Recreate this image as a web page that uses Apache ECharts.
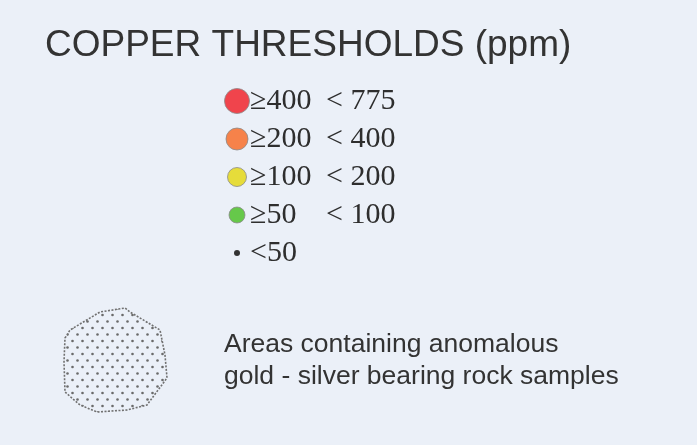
<!DOCTYPE html>
<html>
<head>
<meta charset="utf-8">
<script src="https://cdn.jsdelivr.net/npm/echarts@6/dist/echarts.min.js"></script>
<style>
html, body { margin: 0; padding: 0; background: #ebf0f8; }
#chart { width: 697px; height: 445px; }
</style>
</head>
<body>
<div id="chart"></div>
<script>
// legend rows: copper thresholds in ppm
var ranges = ['≥400', '≥200', '≥100', '≥50', '<50']
var upper = ['< 775', '< 400', '< 200', '< 100', '']
var colors = ['#f0444c', '#f6824a', '#e6dc3a', '#66c84a', '#333333']
var sizes = [25, 22, 19, 16, 6]

// outline of the gold-silver area (grid units, 0..110)
var areaOutline = [
    [5, 33], [10, 25], [40, 7], [65, 3], [70, 7], [100, 25], [105, 50],
    [107, 73], [87, 100], [67, 105], [37, 107], [20, 100], [5, 87], [4, 57]
]
var areaText = ['Areas containing anomalous', 'gold - silver bearing rock samples']

// dotted fill pattern
var tile = document.createElement('canvas')
tile.width = 10
tile.height = 13
var ctx = tile.getContext('2d')
ctx.fillStyle = '#6a6a6a'
ctx.beginPath(); ctx.arc(2.5, 3, 1.3, 0, Math.PI * 2); ctx.fill()
ctx.beginPath(); ctx.arc(7.5, 9.5, 1.3, 0, Math.PI * 2); ctx.fill()

var myChart = echarts.init(document.getElementById('chart'))

var dots = []
var labels = []
for (var i = 0; i < ranges.length; i++) {
    dots.push({
        value: [37, i],
        symbolSize: sizes[i],
        itemStyle: {
            color: colors[i],
            opacity: 1,
            borderColor: i < 4 ? '#8a8a8a' : colors[i],
            borderWidth: i < 4 ? 0.8 : 0
        }
    })
    labels.push({
        value: [50, i],
        label: {
            formatter: upper[i] ? '{a|' + ranges[i] + '}{b|' + upper[i] + '}' : '{a|' + ranges[i] + '}'
        }
    })
}

var serifText = { fontFamily: 'Liberation Serif', fontSize: 30, color: '#2e2e2e' }

var option = {
    backgroundColor: '#ebf0f8',
    animation: false,
    title: [{
        text: 'COPPER THRESHOLDS (ppm)',
        left: 40,
        top: 22,
        textStyle: {
            fontFamily: 'Liberation Sans',
            fontWeight: 'normal',
            fontSize: 37,
            color: '#333333'
        }
    }, {
        text: areaText.join('\n'),
        left: 219,
        top: 324,
        textStyle: {
            fontFamily: 'Liberation Sans',
            fontWeight: 'normal',
            fontSize: 26.5,
            lineHeight: 32,
            color: '#333333'
        }
    }],
    grid: [
        { left: 200, top: 82, width: 100, height: 190 },
        { left: 60, top: 305, width: 110, height: 110 }
    ],
    xAxis: [
        { gridIndex: 0, type: 'value', min: 0, max: 100, show: false },
        { gridIndex: 1, type: 'value', min: 0, max: 110, show: false }
    ],
    yAxis: [
        { gridIndex: 0, type: 'category', data: ranges, inverse: true, show: false },
        { gridIndex: 1, type: 'value', min: 0, max: 110, inverse: true, show: false }
    ],
    series: [{
        type: 'scatter',
        xAxisIndex: 0,
        yAxisIndex: 0,
        symbol: 'circle',
        data: dots,
        silent: true
    }, {
        type: 'scatter',
        xAxisIndex: 0,
        yAxisIndex: 0,
        symbolSize: 0,
        data: labels,
        silent: true,
        itemStyle: { opacity: 1 },
        label: {
            show: true,
            position: 'right',
            distance: 0,
            fontFamily: serifText.fontFamily,
            fontSize: serifText.fontSize,
            color: serifText.color,
            rich: {
                a: Object.assign({ width: 76 }, serifText),
                b: serifText
            }
        }
    }, {
        type: 'custom',
        xAxisIndex: 1,
        yAxisIndex: 1,
        silent: true,
        data: [0],
        renderItem: function (params, api) {
            var points = areaOutline.map(function (p) { return api.coord(p) })
            return {
                type: 'polygon',
                shape: { points: points },
                style: {
                    fill: { image: tile, repeat: 'repeat' },
                    stroke: '#707070',
                    lineWidth: 1.6,
                    lineDash: [2, 1.5]
                }
            }
        }
    }]
}

myChart.setOption(option)
</script>
</body>
</html>
